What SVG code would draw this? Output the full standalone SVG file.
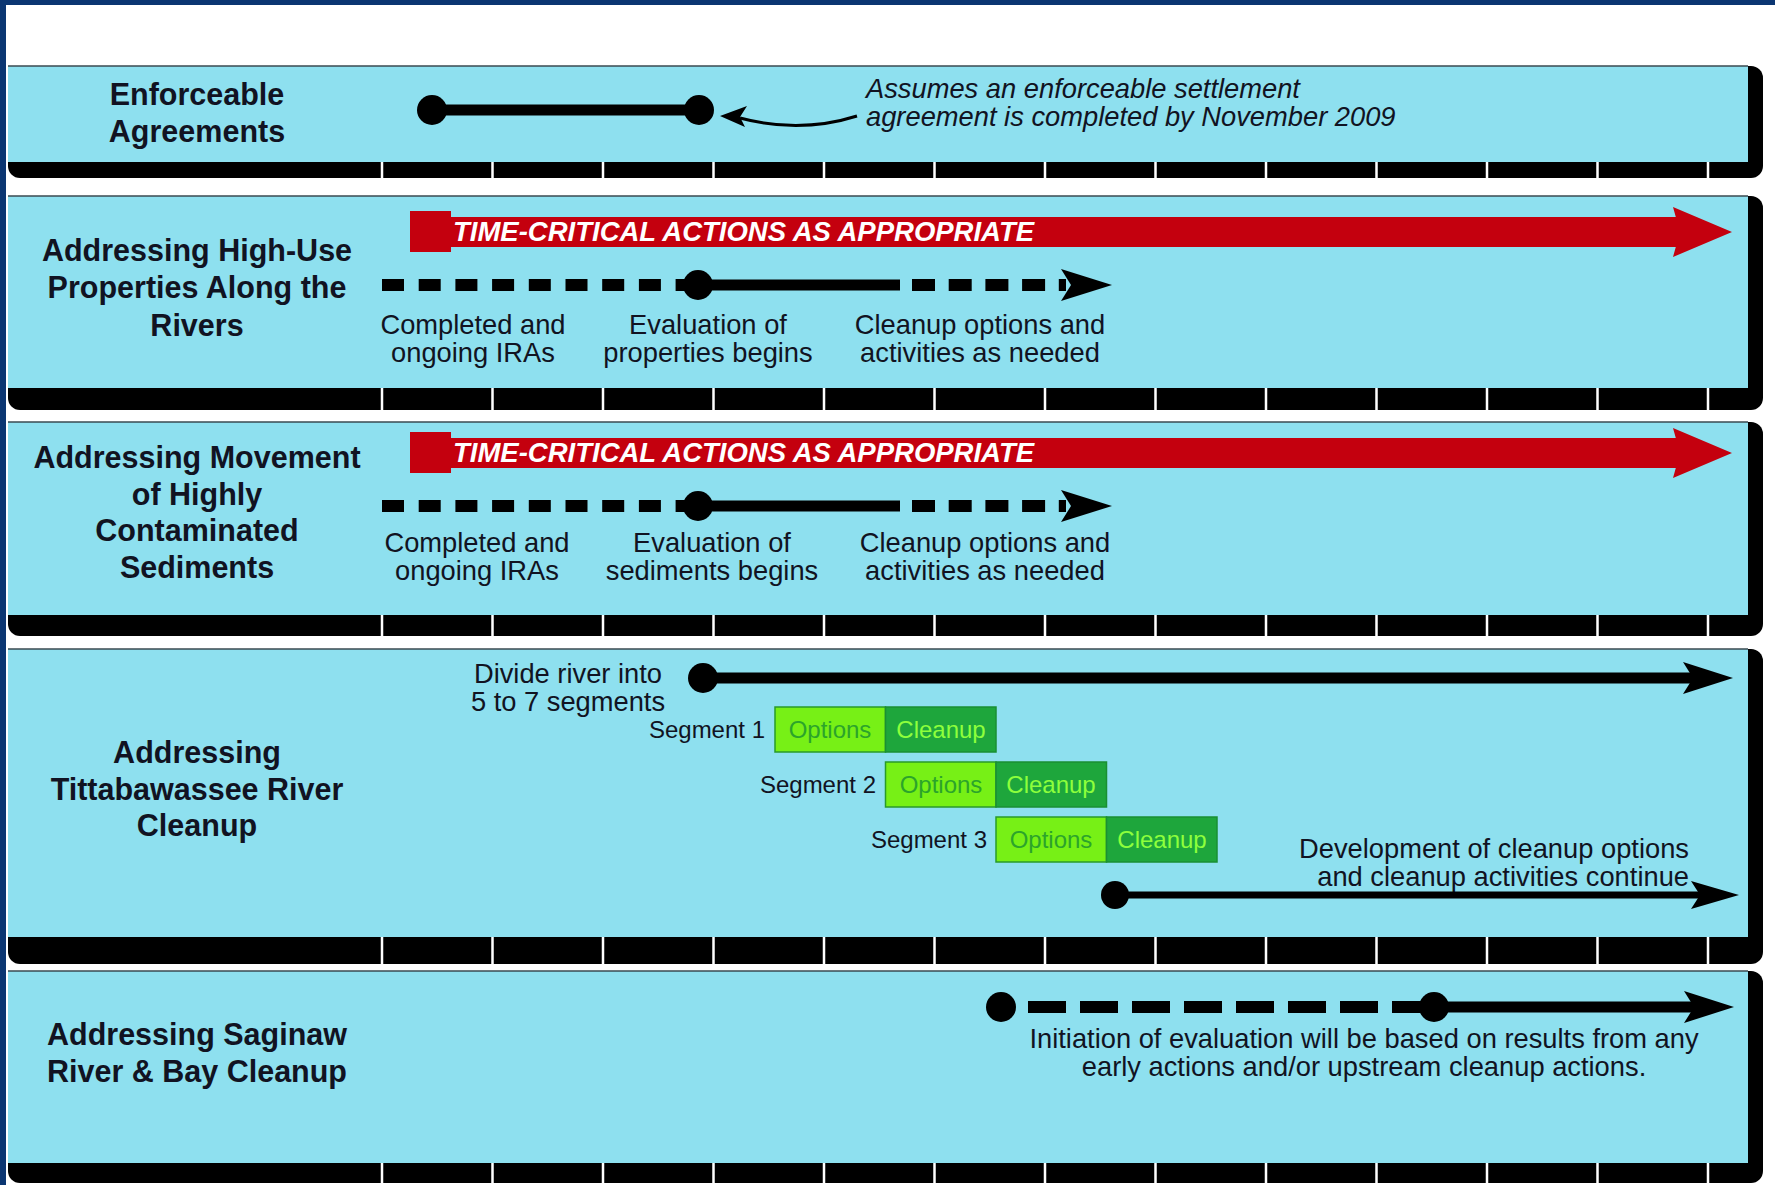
<svg xmlns="http://www.w3.org/2000/svg" xmlns:xlink="http://www.w3.org/1999/xlink" width="1775" height="1185" viewBox="0 0 1775 1185">
<style>
.t{font-family:"Liberation Sans",Arial,Helvetica,sans-serif;fill:#111322}
.title{font-size:30.5px;font-weight:bold;text-anchor:middle}
.lbl{font-size:27.3px}
.mid{text-anchor:middle}
.end{text-anchor:end}
.note{font-size:27.3px;font-style:italic}
.red{font-family:"Liberation Sans",Arial,Helvetica,sans-serif;font-size:27.5px;font-weight:bold;font-style:italic;fill:#fff}
.seg{font-size:24px}
.opt{fill:#77f016;stroke:#2a9a2a;stroke-width:1.5}
.cln{fill:#1ea63c;stroke:#1a8f33;stroke-width:1.5}
.optt{font-family:"Liberation Sans",Arial,Helvetica,sans-serif;fill:#2ba42b;font-size:24px;text-anchor:middle}
.clnt{font-family:"Liberation Sans",Arial,Helvetica,sans-serif;fill:#8dff3c;font-size:24px;text-anchor:middle}
.band{fill:#000}
.cyan{fill:#8ee0ef}
.edge{stroke:#3a4a50;stroke-width:1.5}
.tick{stroke:#fff;stroke-width:2.5;fill:none}
.solid{stroke:#000;stroke-width:11;fill:none}
.thin{stroke:#000;stroke-width:7;fill:none}
.dash{stroke:#000;stroke-width:12;fill:none}
.dot{fill:#000}
.redf{fill:#c4000e}
</style>
<defs>
<path id="tk" class="tick" d="M382 0v30M492.5 0v30M603 0v30M713.5 0v30M824 0v30M934.5 0v30M1045 0v30M1155.5 0v30M1266 0v30M1376.5 0v30M1487 0v30M1597.5 0v30M1708 0v30"/>
</defs>
<rect x="0" y="0" width="1775" height="1185" fill="#fff"/>
<rect x="0" y="0" width="1775" height="5" fill="#0b3672"/>
<rect x="0" y="0" width="6" height="1185" fill="#0b3672"/>

<g id="panel1">
<rect class="band" x="8" y="66" width="1755" height="112" rx="12"/>
<rect class="cyan" x="8" y="66" width="1740" height="96"/>
<line class="edge" x1="8" y1="66" x2="1748" y2="66"/>
<use xlink:href="#tk" y="162"/>
</g>
<g id="panel2">
<rect class="band" x="8" y="196" width="1755" height="214" rx="12"/>
<rect class="cyan" x="8" y="196" width="1740" height="192"/>
<line class="edge" x1="8" y1="196" x2="1748" y2="196"/>
<use xlink:href="#tk" y="388"/>
</g>
<g id="panel3">
<rect class="band" x="8" y="422" width="1755" height="214" rx="12"/>
<rect class="cyan" x="8" y="422" width="1740" height="193"/>
<line class="edge" x1="8" y1="422" x2="1748" y2="422"/>
<use xlink:href="#tk" y="615"/>
</g>
<g id="panel4">
<rect class="band" x="8" y="649" width="1755" height="315" rx="12"/>
<rect class="cyan" x="8" y="649" width="1740" height="288"/>
<line class="edge" x1="8" y1="649" x2="1748" y2="649"/>
<use xlink:href="#tk" y="937"/>
</g>
<g id="panel5">
<rect class="band" x="8" y="971" width="1755" height="212" rx="12"/>
<rect class="cyan" x="8" y="971" width="1740" height="192"/>
<line class="edge" x1="8" y1="971" x2="1748" y2="971"/>
<use xlink:href="#tk" y="1163"/>
</g>

<g id="title1" class="t title"><text x="197" y="105">Enforceable</text><text x="197" y="142">Agreements</text></g>
<g id="title2" class="t title"><text x="197" y="261">Addressing High-Use</text><text x="197" y="298">Properties Along the</text><text x="197" y="336">Rivers</text></g>
<g id="title3" class="t title"><text x="197" y="468">Addressing Movement</text><text x="197" y="505">of Highly</text><text x="197" y="541">Contaminated</text><text x="197" y="578">Sediments</text></g>
<g id="title4" class="t title"><text x="197" y="763">Addressing</text><text x="197" y="800">Tittabawassee River</text><text x="197" y="836">Cleanup</text></g>
<g id="title5" class="t title"><text x="197" y="1045">Addressing Saginaw</text><text x="197" y="1082">River &amp; Bay Cleanup</text></g>

<g id="note1" class="t note"><text x="866" y="98">Assumes an enforceable settlement</text><text x="866" y="126">agreement is completed by November 2009</text></g>

<g id="red2">
<rect class="redf" x="410" y="211" width="41" height="41"/>
<path class="redf" d="M450 217H1680V247H450Z M1673 207L1732 232L1673 257L1680 232Z"/>
<text class="red" x="453" y="241">TIME-CRITICAL ACTIONS AS APPROPRIATE</text>
</g>
<g id="red3">
<rect class="redf" x="410" y="432" width="41" height="41"/>
<path class="redf" d="M450 438H1680V468H450Z M1673 428L1732 453L1673 478L1680 453Z"/>
<text class="red" x="453" y="462">TIME-CRITICAL ACTIONS AS APPROPRIATE</text>
</g>

<g id="labels2" class="t lbl mid">
<text x="473" y="334">Completed and</text><text x="473" y="362">ongoing IRAs</text>
<text x="708" y="334">Evaluation of</text><text x="708" y="362">properties begins</text>
<text x="980" y="334">Cleanup options and</text><text x="980" y="362">activities as needed</text>
</g>
<g id="labels3" class="t lbl mid">
<text x="477" y="552">Completed and</text><text x="477" y="580">ongoing IRAs</text>
<text x="712" y="552">Evaluation of</text><text x="712" y="580">sediments begins</text>
<text x="985" y="552">Cleanup options and</text><text x="985" y="580">activities as needed</text>
</g>

<g id="divide" class="t lbl mid"><text x="568" y="683">Divide river into</text><text x="568" y="711">5 to 7 segments</text></g>

<g id="segment1">
<text class="t seg end" x="765" y="738">Segment 1</text>
<rect class="opt" x="775" y="707" width="110.5" height="45"/>
<rect class="cln" x="885.5" y="707" width="110.5" height="45"/>
<text class="optt" x="830" y="738">Options</text><text class="clnt" x="941" y="738">Cleanup</text>
</g>
<g id="segment2">
<text class="t seg end" x="876" y="793">Segment 2</text>
<rect class="opt" x="885.5" y="762" width="110.5" height="45"/>
<rect class="cln" x="996" y="762" width="110.5" height="45"/>
<text class="optt" x="941" y="793">Options</text><text class="clnt" x="1051" y="793">Cleanup</text>
</g>
<g id="segment3">
<text class="t seg end" x="987" y="848">Segment 3</text>
<rect class="opt" x="996" y="817" width="110.5" height="45"/>
<rect class="cln" x="1106.5" y="817" width="110.5" height="45"/>
<text class="optt" x="1051" y="848">Options</text><text class="clnt" x="1162" y="848">Cleanup</text>
</g>

<g id="develop" class="t lbl end"><text x="1689" y="858">Development of cleanup options</text><text x="1689" y="886">and cleanup activities continue</text></g>
<g id="note5" class="t lbl mid"><text x="1364" y="1048">Initiation of evaluation will be based on results from any</text><text x="1364" y="1076">early actions and/or upstream cleanup actions.</text></g>

<g id="connectors">
<line class="solid" x1="432" y1="110" x2="699" y2="110"/>
<circle class="dot" cx="432" cy="110" r="15"/>
<circle class="dot" cx="699" cy="110" r="15"/>
<path d="M740 118 Q800 134 857 116" fill="none" stroke="#000" stroke-width="3"/>
<path class="dot" d="M720 116L747 106L740 117L745 127Z"/>
<line class="dash" x1="382" y1="285" x2="698" y2="285" stroke-dasharray="22 14.7"/>
<line class="solid" x1="698" y1="285" x2="900" y2="285"/>
<line class="dash" x1="912" y1="285" x2="1066" y2="285" stroke-dasharray="23 13.7"/>
<path class="dot" d="M1112 285L1061 269L1071 285L1061 301Z"/>
<circle class="dot" cx="698" cy="285" r="15"/>
<line class="dash" x1="382" y1="506" x2="698" y2="506" stroke-dasharray="22 14.7"/>
<line class="solid" x1="698" y1="506" x2="900" y2="506"/>
<line class="dash" x1="912" y1="506" x2="1066" y2="506" stroke-dasharray="23 13.7"/>
<path class="dot" d="M1112 506L1061 490L1071 506L1061 522Z"/>
<circle class="dot" cx="698" cy="506" r="15"/>
<line class="solid" x1="703" y1="678" x2="1695" y2="678"/>
<path class="dot" d="M1733 678L1683 662L1693 678L1683 694Z"/>
<circle class="dot" cx="703" cy="678" r="15"/>
<line class="thin" x1="1115" y1="895" x2="1700" y2="895"/>
<path class="dot" d="M1739 895L1691 881L1700 895L1691 909Z"/>
<circle class="dot" cx="1115" cy="895" r="14"/>
<line class="dash" x1="1028" y1="1007" x2="1433" y2="1007" stroke-dasharray="38 14"/>
<line class="solid" x1="1433" y1="1007" x2="1695" y2="1007"/>
<path class="dot" d="M1734 1007L1684 991L1694 1007L1684 1023Z"/>
<circle class="dot" cx="1001" cy="1007" r="15"/>
<circle class="dot" cx="1434" cy="1007" r="15"/>
</g>
</svg>
